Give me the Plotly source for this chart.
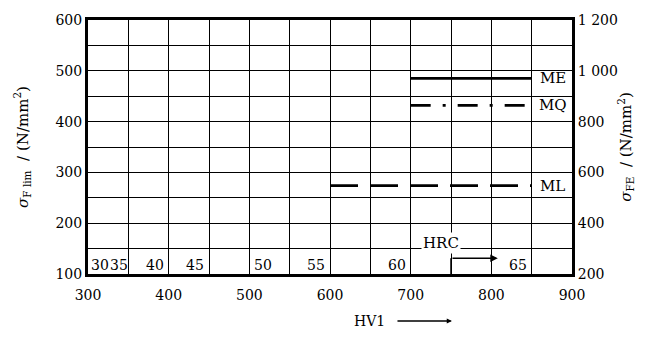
import plotly.graph_objects as go

# Hardness axis (HV1) and limit-stress levels for the three material qualities
hv_ticks = [300, 400, 500, 600, 700, 800, 900]
sigma_left_ticks = [100, 200, 300, 400, 500, 600]
sigma_right_ticks = [200, 400, 600, 800, 1000, 1200]
sigma_right_labels = ["200", "400", "600", "800", "1 000", "1 200"]

grades = ["ME", "MQ", "ML"]
grade_hv_start = [700, 700, 600]
grade_hv_end = [850, 850, 850]
grade_sigma = [485, 432, 274]
grade_dash = ["solid", "20px,12px,3px,12px", "28px,12px"]

# Rockwell (HRC) equivalents written along the bottom strip
hrc_labels = ["30", "35", "40", "45", "50", "55", "60", "65"]
hrc_hv = [315, 338, 383, 433, 517, 583, 683, 833]
hrc_row_sigma = 117

SERIF = "DejaVu Serif"
fig = go.Figure()

for name, x0, x1, s, d in zip(grades, grade_hv_start, grade_hv_end, grade_sigma, grade_dash):
    fig.add_trace(go.Scatter(
        x=[x0, x1], y=[s, s], mode="lines",
        line=dict(color="black", width=2.6, dash=d),
        showlegend=False, hoverinfo="skip"))
    fig.add_annotation(x=876, y=s, xref="x", yref="y", text=name,
                       showarrow=False, font=dict(family=SERIF, size=15, color="black"),
                       xanchor="center", yanchor="middle")

for lab, hv in zip(hrc_labels, hrc_hv):
    fig.add_annotation(x=hv, y=hrc_row_sigma, xref="x", yref="y", text=lab,
                       showarrow=False, font=dict(family=SERIF, size=14, color="black"),
                       xanchor="center", yanchor="middle")

# HRC marker with its arrow in the bottom strip
fig.add_annotation(x=738, y=162, xref="x", yref="y", text="HRC", showarrow=False,
                   font=dict(family=SERIF, size=15, color="black"),
                   bgcolor="white", xanchor="center", yanchor="middle", borderpad=1)
fig.add_shape(type="line", x0=750, x1=750, y0=100, y1=131, xref="x", yref="y",
              line=dict(color="black", width=1.5))
fig.add_annotation(x=808, y=131, ax=750, ay=131, xref="x", yref="y", axref="x", ayref="y",
                   text="", showarrow=True, arrowhead=2, arrowsize=1, arrowwidth=1.5,
                   arrowcolor="black")

# right-hand axis trace (σFE = 2·σF lim)
fig.add_trace(go.Scatter(x=[300], y=[200], yaxis="y2", mode="markers",
                         marker=dict(opacity=0), showlegend=False, hoverinfo="skip"))

# x-axis title with arrow
fig.add_annotation(x=0.618, y=-0.185, xref="paper", yref="paper", text="HV1",
                   showarrow=False, font=dict(family=SERIF, size=14, color="black"),
                   xanchor="right", yanchor="middle")
fig.add_annotation(x=0.752, y=-0.185, ax=-56, ay=0, xref="paper", yref="paper",
                   axref="pixel", ayref="pixel", text="", showarrow=True,
                   arrowhead=2, arrowsize=0.8, arrowwidth=1.3, arrowcolor="black")

grid = dict(showgrid=True, gridcolor="black", gridwidth=1.4)
fig.update_layout(
    width=651, height=337,
    margin=dict(l=88, r=79, t=14, b=63),
    paper_bgcolor="white", plot_bgcolor="white",
    font=dict(family=SERIF, size=14, color="black"),
    xaxis=dict(range=[300, 900], tickvals=hv_ticks, ticks="", ticklabelstandoff=6,
               showline=True, linecolor="black", linewidth=3, mirror=True,
               minor=dict(dtick=50, tick0=300, **grid), zeroline=False, **grid),
    yaxis=dict(range=[100, 600], tickvals=sigma_left_ticks, ticks="",
               showline=True, linecolor="black", linewidth=3, mirror=True,
               minor=dict(dtick=50, tick0=100, **grid), zeroline=False,
               title=dict(text="<i>σ</i><sub>F lim</sub>  / (N/mm<sup>2</sup>)",
                          font=dict(family=SERIF, size=15), standoff=24),
               **grid),
    yaxis2=dict(range=[200, 1200], overlaying="y", side="right",
                tickvals=sigma_right_ticks, ticktext=sigma_right_labels, ticks="",
                showgrid=False, zeroline=False, showline=True, linecolor="black", linewidth=3,
                title=dict(text="<i>σ</i><sub>FE</sub>  / (N/mm<sup>2</sup>)",
                           font=dict(family=SERIF, size=15), standoff=4)),
)

fig.write_html("out.html")
